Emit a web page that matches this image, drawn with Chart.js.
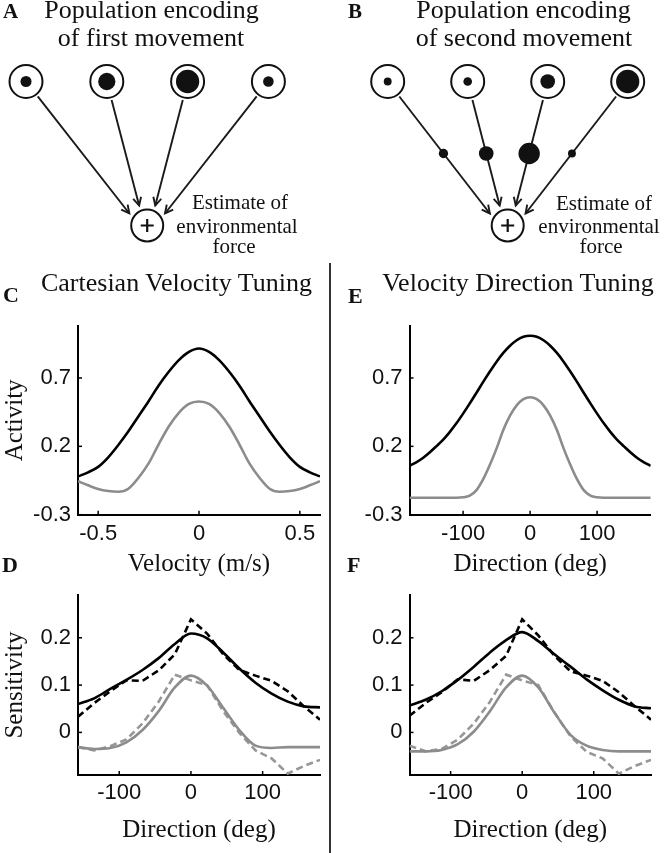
<!DOCTYPE html>
<html>
<head>
<meta charset="utf-8">
<script src="https://cdn.jsdelivr.net/npm/chart.js@4.4.1/dist/chart.umd.min.js"></script>
<style>
html,body{margin:0;padding:0;background:#fff;}
#fig{position:relative;width:665px;height:853px;overflow:hidden;background:#fff;}
#fig canvas{position:absolute;}
.t{position:absolute;white-space:nowrap;color:#111;}
#divider{position:absolute;left:329px;top:263px;width:2px;height:590px;background:#333;}
</style>
</head>
<body>
<div id="fig">
  <canvas id="cA" width="330" height="262" style="left:0;top:0"></canvas>
  <canvas id="cB" width="335" height="262" style="left:330px;top:0"></canvas>
  <canvas id="cC" width="330" height="317" style="left:0;top:262px"></canvas>
  <canvas id="cE" width="330" height="317" style="left:332px;top:262px"></canvas>
  <canvas id="cD" width="330" height="270" style="left:0;top:575px"></canvas>
  <canvas id="cF" width="330" height="270" style="left:332px;top:575px"></canvas>
  <div id="divider"></div>
</div>
<script>
// ---------------- data ----------------
// Panels A/B: population of four neurons (activity = inner dot size, weight = mid-arrow dot size)
const neuronIndex = [0, 1, 2, 3];
const activityFirst = [0.46, 0.72, 0.97, 0.44];
const activitySecond = [0.33, 0.36, 0.61, 0.97];
const weightSecond = [0.39, 0.61, 0.89, 0.33];
const arrowAngles = [146, 112, 68, 34];

// Panel C: Cartesian velocity tuning
const velocityC = [-0.6,-0.55,-0.5,-0.45,-0.4,-0.35,-0.3,-0.25,-0.2,-0.15,-0.1,-0.05,0,0.05,0.1,0.15,0.2,0.25,0.3,0.35,0.4,0.45,0.5,0.55,0.6];
const activityCBlack = [-0.02,0.01,0.05,0.12,0.21,0.31,0.42,0.53,0.645,0.745,0.83,0.89,0.915,0.89,0.83,0.745,0.645,0.53,0.42,0.31,0.21,0.12,0.05,0.01,-0.02];
const activityCGray = [-0.055,-0.085,-0.112,-0.127,-0.132,-0.11,-0.03,0.075,0.215,0.345,0.445,0.51,0.528,0.51,0.445,0.345,0.215,0.075,-0.03,-0.11,-0.132,-0.127,-0.112,-0.085,-0.055];

// Panel E: velocity direction tuning
const directionE = [-180,-170,-160,-150,-140,-130,-120,-110,-100,-90,-80,-70,-60,-50,-40,-30,-20,-10,0,10,20,30,40,50,60,70,80,90,100,110,120,130,140,150,160,170,180];
const activityEBlack = [0.058,0.083,0.115,0.155,0.2,0.247,0.304,0.368,0.439,0.514,0.592,0.671,0.747,0.819,0.883,0.936,0.976,1.001,1.009,1.001,0.976,0.936,0.883,0.819,0.747,0.671,0.592,0.514,0.439,0.368,0.304,0.247,0.2,0.155,0.115,0.083,0.058];
const activityEGray = [-0.176,-0.176,-0.176,-0.176,-0.176,-0.176,-0.176,-0.176,-0.173,-0.16,-0.12,-0.04,0.065,0.185,0.32,0.425,0.5,0.545,0.559,0.545,0.5,0.425,0.32,0.185,0.065,-0.04,-0.12,-0.16,-0.173,-0.176,-0.176,-0.176,-0.176,-0.176,-0.176,-0.176,-0.176];

// Panels D/F: sensitivity vs direction (16 directions)
const directionDF = [-157.5,-135,-112.5,-90,-67.5,-45,-22.5,0,22.5,45,67.5,90,112.5,135,157.5,180];
const sensDBlack = [0.060,0.072,0.092,0.111,0.132,0.157,0.187,0.209,0.199,0.169,0.135,0.105,0.082,0.065,0.055,0.053];
const sensDBlackDash = [0.033,0.062,0.087,0.110,0.109,0.131,0.165,0.239,0.209,0.165,0.132,0.120,0.109,0.087,0.055,0.027];
const sensDGray = [-0.031,-0.035,-0.033,-0.021,0.005,0.045,0.095,0.120,0.099,0.052,0.005,-0.028,-0.033,-0.031,-0.031,-0.031];
const sensDGrayDash = [-0.031,-0.038,-0.029,-0.015,0.019,0.065,0.122,0.110,0.100,0.045,-0.001,-0.038,-0.055,-0.087,-0.071,-0.058];
const sensFBlack = [0.057,0.069,0.087,0.111,0.139,0.169,0.195,0.212,0.193,0.165,0.139,0.112,0.089,0.069,0.055,0.051];
const sensFBlackDash = [0.035,0.062,0.085,0.112,0.109,0.132,0.162,0.239,0.205,0.162,0.129,0.120,0.109,0.085,0.055,0.027];
const sensFGray = [-0.040,-0.040,-0.037,-0.025,0.002,0.045,0.095,0.120,0.095,0.042,-0.005,-0.028,-0.037,-0.040,-0.040,-0.040];
const sensFGrayDash = [-0.028,-0.040,-0.035,-0.015,0.019,0.065,0.122,0.110,0.100,0.042,-0.008,-0.041,-0.055,-0.087,-0.071,-0.058];

// ticks
const yTicksActivity = [-0.3, 0.2, 0.7];
const yLabelsActivity = ['-0.3', '0.2', '0.7'];
const xTicksVelocity = [-0.5, 0, 0.5];
const xLabelsVelocity = ['-0.5', '0', '0.5'];
const xTicksDirection = [-100, 0, 100];
const xLabelsDirection = ['-100', '0', '100'];
const yTicksSens = [0, 0.1, 0.2];
const yLabelsSens = ['0', '0.1', '0.2'];

// ---------------- helpers ----------------
const fig = document.getElementById('fig');
const SERIF = '"Liberation Serif", "Times New Roman", Times, serif';
const SANS = '"Liberation Sans", Arial, Helvetica, sans-serif';
function label(txt, x, base, size, o) {
  o = o || {};
  const d = document.createElement('div');
  d.className = 't';
  d.textContent = txt;
  const fam = o.sans ? SANS : SERIF;
  const asc = o.sans ? 0.8465 : 0.8375;
  d.style.font = (o.bold ? 'bold ' : '') + size + 'px ' + fam;
  d.style.lineHeight = size + 'px';
  d.style.top = (base - asc * size) + 'px';
  d.style.left = x + 'px';
  if (o.center) d.style.transform = 'translateX(-50%)';
  fig.appendChild(d);
}

// ---------------- diagrams A / B ----------------
function diagram(id, o) {
  const W = o.W, H = o.H, sx = o.spacing, sy = 144;
  const xmin = -o.firstX / sx, xmax = xmin + W / sx;
  const ymax = 1 + o.rowY / sy, ymin = ymax - H / sy;
  const toPx = (ux, uy) => [(ux - xmin) * sx, (ymax - uy) * sy];
  const toU = (p) => ({x: xmin + p[0] / sx, y: ymax - p[1] / sy});
  const outIdx = (neuronIndex.length - 1) / 2;
  const out = toPx(outIdx, 0);
  const nodeR = 16.5, outR = 16, targetR = 21.5, headL = 9, headA = 27 * Math.PI / 180;
  const shafts = [], heads = [], mids = [];
  neuronIndex.forEach((idx, i) => {
    const c = toPx(idx, 1);
    const a = arrowAngles[i] * Math.PI / 180;
    const end = [out[0] + targetR * Math.cos(a), out[1] - targetR * Math.sin(a)];
    const dx = end[0] - c[0], dy = end[1] - c[1], L = Math.hypot(dx, dy);
    const u = [dx / L, dy / L];
    const start = [c[0] + u[0] * (nodeR + 2.5), c[1] + u[1] * (nodeR + 2.5)];
    shafts.push([toU(start), toU(end)]);
    const wing = s => {
      const ca = Math.cos(s * headA), sa = Math.sin(s * headA);
      const r = [u[0] * ca - u[1] * sa, u[0] * sa + u[1] * ca];
      return toU([end[0] - headL * r[0], end[1] - headL * r[1]]);
    };
    heads.push([wing(1), toU(end), wing(-1)]);
    const midY = (c[1] + out[1]) / 2;
    const t = (midY - c[1]) / dy;
    mids.push(toU([c[0] + t * dx, midY]));
  });
  const ds = [];
  ds.push({data: [{x: outIdx, y: 0}], pointStyle: 'cross', pointRadius: 6.5, pointBorderWidth: 2.2, pointBorderColor: '#111', borderColor: '#111'});
  ds.push({data: neuronIndex.map(i => ({x: i, y: 1})), pointRadius: o.levels.map(v => v * 12), pointBackgroundColor: '#111', pointBorderColor: '#111', pointBorderWidth: 0});
  if (o.weights) ds.push({data: mids, pointRadius: o.weights.map(v => v * 12), pointBackgroundColor: '#111', pointBorderColor: '#111', pointBorderWidth: 0});
  ds.push({data: neuronIndex.map(i => ({x: i, y: 1})).concat([{x: outIdx, y: 0}]),
           pointRadius: neuronIndex.map(() => nodeR).concat([outR]),
           pointBackgroundColor: '#fff', pointBorderColor: '#111', pointBorderWidth: 2});
  shafts.forEach(s => ds.push({data: s, showLine: true, pointRadius: 0, borderColor: '#1a1a1a', borderWidth: 1.9}));
  heads.forEach(h => ds.push({data: h, showLine: true, pointRadius: 0, borderColor: '#1a1a1a', borderWidth: 1.9, tension: 0}));
  return new Chart(document.getElementById(id), {
    type: 'scatter',
    data: {datasets: ds},
    options: {
      responsive: false, animation: false, events: [],
      layout: {padding: 0, autoPadding: false},
      plugins: {legend: {display: false}, tooltip: {enabled: false}},
      scales: {
        x: {type: 'linear', display: false, min: xmin, max: xmax},
        y: {type: 'linear', display: false, min: ymin, max: ymax}
      }
    }
  });
}

// ---------------- line charts C-F ----------------
const inwardTicks = {
  id: 'inwardTicks',
  afterDraw(chart) {
    const {ctx, chartArea: a, scales: {x, y}} = chart;
    ctx.save();
    ctx.strokeStyle = '#000';
    ctx.lineWidth = 1.5;
    x.ticks.forEach(t => {
      const px = x.getPixelForValue(t.value);
      ctx.beginPath(); ctx.moveTo(px, a.bottom); ctx.lineTo(px, a.bottom - 4); ctx.stroke();
    });
    y.ticks.forEach(t => {
      const py = y.getPixelForValue(t.value);
      ctx.beginPath(); ctx.moveTo(a.left, py); ctx.lineTo(a.left + 4, py); ctx.stroke();
    });
    ctx.restore();
  }
};

function lineChart(id, o) {
  const datasets = o.series.map(s => ({
    data: o.xs.map((x, i) => ({x: x, y: s.values[i]})),
    showLine: true,
    borderColor: s.color,
    borderWidth: 2.6,
    borderDash: s.dash ? [7, 4] : [],
    pointRadius: 0,
    fill: false,
    cubicInterpolationMode: s.dash ? 'default' : 'monotone',
    tension: 0
  }));
  return new Chart(document.getElementById(id), {
    type: 'scatter',
    data: {datasets: datasets},
    options: {
      responsive: false, animation: false, events: [],
      layout: {padding: {left: 0, top: o.padTop, right: o.padRight, bottom: 0}, autoPadding: false},
      plugins: {legend: {display: false}, tooltip: {enabled: false}},
      scales: {
        x: {
          type: 'linear', min: o.xMin, max: o.xMax,
          afterBuildTicks: s => { s.ticks = o.xTicks.map(v => ({value: v})); },
          afterFit: s => { s.height = o.xH; },
          grid: {display: true, drawOnChartArea: false, drawTicks: false},
          border: {display: true, color: '#000', width: 2},
          ticks: {autoSkip: false, maxRotation: 0, minRotation: 0, padding: o.xPad, color: '#111',
                  font: {family: SANS, size: 22}, callback: (v, i) => o.xLabels[i]},
          title: {display: !!o.xTitle, text: o.xTitle, color: '#111', padding: 0,
                  font: {family: SERIF, size: 25}}
        },
        y: {
          type: 'linear', min: o.yMin, max: o.yMax,
          afterBuildTicks: s => { s.ticks = o.yTicks.map(v => ({value: v})); },
          afterFit: s => { s.width = o.yW; },
          grid: {display: true, drawOnChartArea: false, drawTicks: false},
          border: {display: true, color: '#000', width: 2},
          ticks: {autoSkip: false, padding: 7, color: '#111',
                  font: {family: SANS, size: 22}, callback: (v, i) => o.yLabels[i]},
          title: {display: !!o.yTitle, text: o.yTitle, color: '#111', padding: 0,
                  font: {family: SERIF, size: 25}}
        }
      }
    },
    plugins: [inwardTicks]
  });
}

const BLACK = '#000000', GRAY = '#8c8c8c', GRAYD = '#979797';

diagram('cA', {W: 330, H: 262, spacing: 80.8, firstX: 26, rowY: 81.5, levels: activityFirst});
diagram('cB', {W: 335, H: 262, spacing: 80, firstX: 57.7, rowY: 81.5, levels: activitySecond, weights: weightSecond});

lineChart('cC', {
  xs: velocityC, xMin: -0.6, xMax: 0.6, yMin: -0.3, yMax: 1.08,
  xTicks: xTicksVelocity, xLabels: xLabelsVelocity, yTicks: yTicksActivity, yLabels: yLabelsActivity,
  xTitle: 'Velocity (m/s)', yTitle: 'Activity',
  padTop: 64, padRight: 10, yW: 78, xH: 64.3, xPad: 6,
  series: [{values: activityCBlack, color: BLACK}, {values: activityCGray, color: GRAY}]
});
lineChart('cE', {
  xs: directionE, xMin: -180, xMax: 180, yMin: -0.3, yMax: 1.08,
  xTicks: xTicksDirection, xLabels: xLabelsDirection, yTicks: yTicksActivity, yLabels: yLabelsActivity,
  xTitle: 'Direction (deg)', yTitle: '',
  padTop: 64, padRight: 11.3, yW: 77.5, xH: 64.3, xPad: 6,
  series: [{values: activityEBlack, color: BLACK}, {values: activityEGray, color: GRAY}]
});
lineChart('cD', {
  xs: directionDF, xMin: -157.5, xMax: 180, yMin: -0.09, yMax: 0.29,
  xTicks: xTicksDirection, xLabels: xLabelsDirection, yTicks: yTicksSens, yLabels: yLabelsSens,
  xTitle: 'Direction (deg)', yTitle: 'Sensitivity',
  padTop: 8.5, padRight: 10, yW: 78, xH: 70, xPad: 5,
  series: [
    {values: sensDBlack, color: BLACK},
    {values: sensDBlackDash, color: BLACK, dash: true},
    {values: sensDGray, color: GRAY},
    {values: sensDGrayDash, color: GRAYD, dash: true}
  ]
});
lineChart('cF', {
  xs: directionDF, xMin: -157.5, xMax: 180, yMin: -0.09, yMax: 0.29,
  xTicks: xTicksDirection, xLabels: xLabelsDirection, yTicks: yTicksSens, yLabels: yLabelsSens,
  xTitle: 'Direction (deg)', yTitle: '',
  padTop: 8.5, padRight: 11, yW: 77.5, xH: 70, xPad: 5,
  series: [
    {values: sensFBlack, color: BLACK},
    {values: sensFBlackDash, color: BLACK, dash: true},
    {values: sensFGray, color: GRAY},
    {values: sensFGrayDash, color: GRAYD, dash: true}
  ]
});

// ---------------- text ----------------
label('A', 3, 18.5, 21, {bold: true});
label('B', 348, 18.5, 21, {bold: true});
label('Population encoding', 151.5, 18.5, 26, {center: true});
label('of first movement', 151, 46.7, 26, {center: true});
label('Population encoding', 523.5, 18.5, 26, {center: true});
label('of second movement', 524, 46.7, 26, {center: true});
label('Estimate of', 240, 210, 21, {center: true});
label('environmental', 237, 233.3, 21, {center: true});
label('force', 234, 254, 21, {center: true});
label('Estimate of', 604, 211, 21, {center: true});
label('environmental', 599, 233.3, 21, {center: true});
label('force', 601, 253.5, 21, {center: true});
label('C', 3, 302, 22, {bold: true});
label('E', 348, 303, 22, {bold: true});
label('D', 2, 572, 22, {bold: true});
label('F', 347, 572, 22, {bold: true});
label('Cartesian Velocity Tuning', 176.5, 292, 26, {center: true});
label('Velocity Direction Tuning', 518, 292, 26, {center: true});
</script>
</body>
</html>
